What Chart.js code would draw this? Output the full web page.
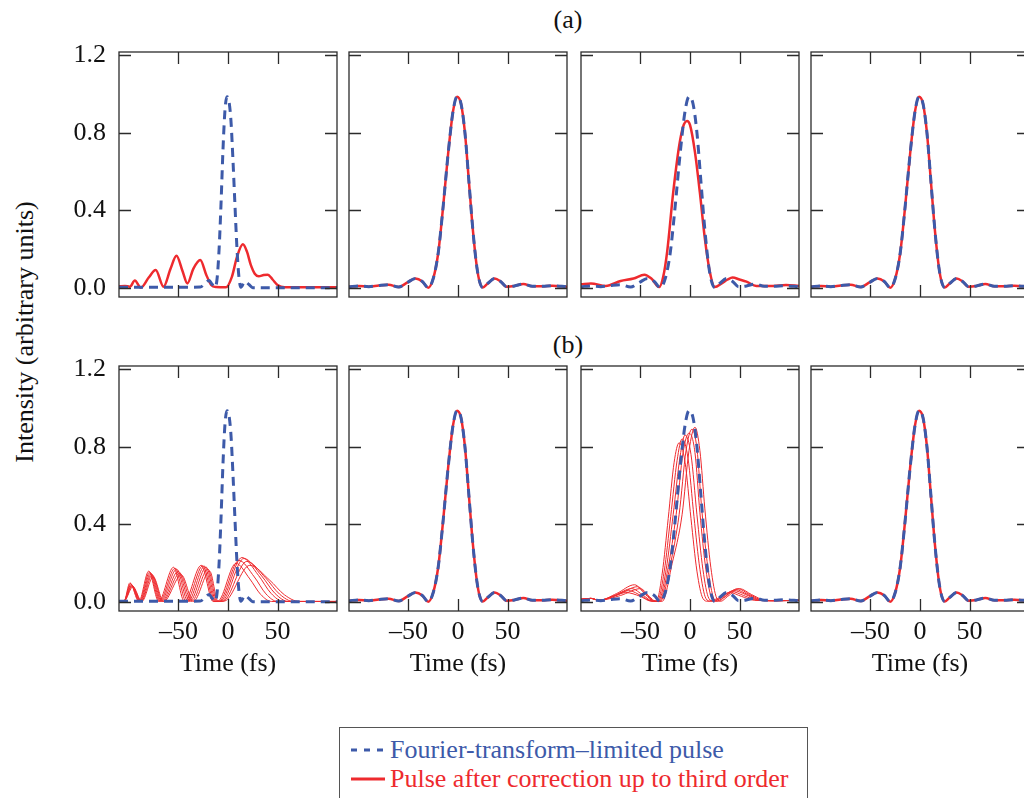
<!DOCTYPE html>
<html lang="en">
<head>
    <meta charset="UTF-8">
    <title>Pulse intensity</title>
    <script src="https://cdn.jsdelivr.net/npm/chart.js"></script>
    <style>
        html, body {
            margin: 0;
            width: 1024px;
            height: 798px;
            overflow: hidden;
            background: #fff;
            font-family: "Liberation Serif", "Times New Roman", serif;
        }
        canvas { position: absolute; }
        .txt {
            position: absolute;
            font-size: 26px;
            line-height: 30px;
            color: #111;
            white-space: nowrap;
            transform: translate(-50%, -50%);
        }
        #ylab { transform: translate(-50%, -50%) rotate(-90deg); }
        #legend {
            position: absolute;
            left: 339px;
            top: 727px;
            width: 467px;
            height: 90px;
            border: 1px solid #555;
        }
        #legend div {
            position: absolute;
            left: 50px;
            font-size: 26px;
            line-height: 30px;
            white-space: nowrap;
        }
        #legend svg { position: absolute; left: 10px; }
    </style>
</head>
<body>
    <div class="txt" style="left:568px; top:20px">(a)</div>
    <div class="txt" style="left:568px; top:345px">(b)</div>
    <div class="txt" id="ylab" style="left:25px; top:332px">Intensity (arbitrary units)</div>

    <div id="legend">
        <svg width="36" height="10" style="top:17px"><line x1="1" y1="5" x2="35" y2="5" stroke="#3d5aa9" stroke-width="3" stroke-dasharray="6 7"/></svg>
        <div style="top:7px; color:#3d5aa9">Fourier-transform–limited pulse</div>
        <svg width="36" height="10" style="top:46px"><line x1="1" y1="5" x2="35" y2="5" stroke="#ee2a2e" stroke-width="3"/></svg>
        <div style="top:36px; color:#ee2a2e">Pulse after correction up to third order</div>
    </div>

    <script>
        // ticks
        const timeTicks = [-50, 0, 50];
        const intensityTicks = [0, 0.4, 0.8, 1.2];

        // [time fs, intensity]
        const ftlNarrow = [[-110,0.005],[-40,0.005],[-28,0.006],[-23,0.025],[-19,0.04],[-16,0.02],[-13,0.005],[-11,0.05],[-9,0.2],[-7,0.44],[-5,0.72],[-3,0.92],[-1,0.985],[1,0.96],[3,0.86],[5,0.66],[7,0.43],[9,0.21],[11,0.06],[13,0.005],[17,0.035],[21,0.02],[25,0.003],[40,0.003],[110,0.003]];

        const ftlWide = [[-110,0.008],[-100,0.012],[-90,0.008],[-80,0.014],[-70,0.018],[-60,0.006],[-51,0.03],[-43,0.05],[-36,0.035],[-30,0.003],[-25,0.05],[-20,0.18],[-15,0.42],[-10,0.69],[-5,0.91],[-1,0.985],[3,0.95],[7,0.8],[11,0.55],[15,0.3],[19,0.11],[22,0.03],[25,0.004],[30,0.025],[37,0.05],[43,0.035],[49,0.008],[57,0.012],[66,0.022],[75,0.01],[85,0.01],[95,0.013],[110,0.008]];

        const a1Red = [[-110,0.01],[-104,0.012],[-99,0.008],[-94,0.04],[-88,0.003],[-80,0.055],[-73,0.094],[-65,0.008],[-58,0.1],[-52,0.167],[-46,0.09],[-41,0.025],[-35,0.1],[-28,0.145],[-22,0.07],[-17,0.017],[-12,0.006],[-2,0.005],[4,0.06],[9,0.16],[15,0.226],[19,0.19],[23,0.12],[27,0.075],[31,0.062],[36,0.068],[40,0.07],[45,0.045],[50,0.017],[57,0.005],[110,0.005]];

        const a3Red = [[-110,0.02],[-100,0.025],[-85,0.012],[-70,0.037],[-57,0.05],[-46,0.07],[-39,0.05],[-31,0.006],[-27,0.06],[-23,0.19],[-17,0.49],[-11,0.73],[-7,0.83],[-3,0.86],[0,0.84],[5,0.7],[10,0.49],[15,0.255],[20,0.085],[25,0.006],[32,0.025],[38,0.045],[43,0.055],[50,0.045],[57,0.034],[67,0.012],[84,0.012],[97,0.017],[110,0.012]];

        // (b) first column: family of corrected pulses
        const b1Fan0 = [[-110,0.005],[-105,0.005],[-99,0.10],[-90,0.004],[-80,0.16],[-70,0.004],[-55,0.18],[-44,0.004],[-27,0.19],[-15,0.004],[-10,0.006],[8,0.20],[22,0.12],[33,0.04],[44,0.004],[110,0.004]];
        const b1Fan1 = [[-110,0.005],[-105,0.005],[-98.4,0.096],[-89.4,0.004],[-79.1,0.155],[-69,0.004],[-53.4,0.175],[-42.2,0.004],[-25.3,0.188],[-14,0.004],[-8.7,0.006],[11,0.215],[26.6,0.13],[38.3,0.043],[50,0.004],[110,0.004]];
        const b1Fan2 = [[-110,0.005],[-105,0.005],[-97.8,0.092],[-88.8,0.004],[-78.2,0.15],[-68,0.004],[-51.8,0.17],[-40.4,0.004],[-23.6,0.185],[-13,0.004],[-7.4,0.006],[14,0.23],[30.8,0.138],[43.4,0.046],[56,0.004],[110,0.004]];
        const b1Fan3 = [[-110,0.005],[-105,0.005],[-97.2,0.088],[-88.2,0.004],[-77.3,0.145],[-67,0.004],[-50.2,0.16],[-38.6,0.004],[-21.9,0.18],[-12,0.004],[-6,0.006],[16,0.225],[34,0.135],[47.5,0.045],[61,0.004],[110,0.004]];
        const b1Fan4 = [[-110,0.005],[-105,0.005],[-96.6,0.084],[-87.6,0.004],[-76.4,0.14],[-66,0.004],[-48.6,0.15],[-36.8,0.004],[-20.2,0.17],[-11,0.004],[-4.7,0.006],[19,0.21],[37.8,0.126],[52,0.042],[66,0.004],[110,0.004]];
        const b1Fan5 = [[-110,0.005],[-105,0.005],[-96,0.08],[-87,0.004],[-75.5,0.13],[-65,0.004],[-47,0.14],[-35,0.004],[-18.5,0.16],[-10,0.004],[-3.4,0.006],[22,0.19],[42,0.114],[57,0.038],[72,0.004],[110,0.004]];

        // (b) third column: family of corrected pulses
        const b3Fan0 = [[-110,0.015],[-100,0.02],[-92,0.01],[-80,0.025],[-65,0.05],[-50,0.03],[-40,0.006],[-34,0.005],[-28,0.15],[-22,0.43],[-16,0.72],[-11,0.82],[-5,0.72],[1,0.43],[7,0.16],[13,0.02],[18,0.005],[28,0.02],[40,0.05],[52,0.03],[65,0.01],[80,0.008],[110,0.01]];
        const b3Fan1 = [[-110,0.015],[-100,0.02],[-92,0.01],[-78,0.03],[-62,0.06],[-48,0.03],[-39,0.006],[-33,0.005],[-26,0.16],[-19.5,0.44],[-13,0.73],[-8,0.84],[-2,0.74],[4,0.44],[10,0.17],[16,0.02],[21,0.005],[30,0.02],[42,0.055],[54,0.035],[68,0.01],[82,0.008],[110,0.01]];
        const b3Fan2 = [[-110,0.015],[-100,0.02],[-92,0.01],[-76,0.035],[-59,0.07],[-47,0.035],[-38,0.006],[-32,0.005],[-24,0.17],[-17,0.45],[-10,0.75],[-5,0.86],[1,0.76],[7,0.45],[13,0.17],[19,0.02],[24,0.005],[32,0.025],[44,0.06],[56,0.04],[70,0.01],[84,0.008],[110,0.01]];
        const b3Fan3 = [[-110,0.015],[-100,0.02],[-92,0.01],[-74,0.045],[-56,0.09],[-45,0.04],[-37,0.006],[-31,0.005],[-22,0.18],[-14,0.45],[-7,0.77],[-1,0.87],[5,0.77],[10,0.46],[16,0.17],[22,0.02],[26,0.005],[34,0.025],[46,0.065],[58,0.04],[72,0.01],[86,0.008],[110,0.01]];
        const b3Fan4 = [[-110,0.015],[-100,0.02],[-92,0.01],[-72,0.04],[-53,0.08],[-43,0.035],[-36,0.006],[-30,0.005],[-20,0.19],[-11,0.45],[-4,0.78],[2,0.89],[7,0.79],[12,0.47],[18,0.18],[24,0.02],[28,0.005],[36,0.03],[48,0.07],[60,0.04],[74,0.01],[88,0.008],[110,0.01]];
        const b3Fan5 = [[-110,0.015],[-100,0.02],[-92,0.01],[-70,0.035],[-50,0.07],[-41,0.03],[-35,0.006],[-28,0.005],[-18,0.2],[-8,0.45],[-1,0.78],[5,0.9],[10,0.78],[15,0.48],[21,0.18],[27,0.02],[31,0.005],[38,0.03],[50,0.07],[62,0.04],[76,0.01],[90,0.008],[110,0.01]];

        const b1Fan = [b1Fan0, b1Fan1, b1Fan2, b1Fan3, b1Fan4, b1Fan5];
        const b3Fan = [b3Fan0, b3Fan1, b3Fan2, b3Fan3, b3Fan4, b3Fan5];

        const BLUE = '#3d5aa9';
        const RED = '#ee2a2e';

        const panels = [
            { row: 0, col: 0, blue: ftlNarrow, red: [a1Red] },
            { row: 0, col: 1, blue: ftlWide, red: [ftlWide] },
            { row: 0, col: 2, blue: ftlWide, red: [a3Red] },
            { row: 0, col: 3, blue: ftlWide, red: [ftlWide] },
            { row: 1, col: 0, blue: ftlNarrow, red: b1Fan, thin: true },
            { row: 1, col: 1, blue: ftlWide, red: [ftlWide] },
            { row: 1, col: 2, blue: ftlWide, red: b3Fan, thin: true },
            { row: 1, col: 3, blue: ftlWide, red: [ftlWide] }
        ];

        // plot box geometry
        const colLeft = [119, 349, 580.5, 810.5];
        const rowTop = [52, 366];
        const boxW = 218, boxH = 245;
        const padTop = 32, padRight = 10;

        Chart.defaults.font.family = '"Liberation Serif", "Times New Roman", serif';
        Chart.defaults.font.size = 26;
        Chart.defaults.color = '#111';

        // frame with inward ticks on all four sides
        const frameTicks = {
            id: 'frameTicks',
            afterDatasetsDraw(chart) {
                const { ctx, chartArea: a, scales: { x, y } } = chart;
                ctx.save();
                ctx.strokeStyle = '#2b2b2b';
                ctx.lineWidth = 1.3;
                ctx.beginPath();
                timeTicks.forEach(t => {
                    const px = Math.round(x.getPixelForValue(t)) + 0.5;
                    ctx.moveTo(px, a.top); ctx.lineTo(px, a.top + 12);
                    ctx.moveTo(px, a.bottom); ctx.lineTo(px, a.bottom - 12);
                });
                intensityTicks.forEach(v => {
                    const py = Math.round(y.getPixelForValue(v)) + 0.5;
                    ctx.moveTo(a.left, py); ctx.lineTo(a.left + 12, py);
                    ctx.moveTo(a.right, py); ctx.lineTo(a.right - 12, py);
                });
                ctx.stroke();
                ctx.strokeRect(a.left, a.top, a.right - a.left, a.bottom - a.top);
                ctx.restore();
            }
        };

        const toXY = arr => arr.map(p => ({ x: p[0], y: p[1] }));

        panels.forEach(p => {
            const leftSpace = p.col === 0 ? 70 : 10;
            const bottomSpace = p.row === 1 ? 75 : 32;
            const canvas = document.createElement('canvas');
            canvas.width = leftSpace + boxW + padRight;
            canvas.height = padTop + boxH + bottomSpace;
            canvas.style.left = (colLeft[p.col] - leftSpace) + 'px';
            canvas.style.top = (rowTop[p.row] - padTop) + 'px';
            document.body.appendChild(canvas);

            const datasets = [{
                data: toXY(p.blue),
                borderColor: BLUE,
                borderWidth: 3,
                borderDash: [9, 6],
                pointRadius: 0,
                cubicInterpolationMode: 'monotone'
            }];
            p.red.forEach(curve => datasets.push({
                data: toXY(curve),
                borderColor: RED,
                borderWidth: p.thin ? 1 : 2.5,
                pointRadius: 0,
                cubicInterpolationMode: 'monotone'
            }));

            new Chart(canvas.getContext('2d'), {
                type: 'line',
                data: { datasets },
                plugins: [frameTicks],
                options: {
                    responsive: false,
                    animation: false,
                    layout: { padding: { top: padTop, right: padRight, bottom: p.row === 1 ? 0 : bottomSpace, left: 0 } },
                    plugins: { legend: { display: false }, tooltip: { enabled: false } },
                    scales: {
                        x: {
                            type: 'linear',
                            min: -110, max: 110,
                            grid: { display: false, drawTicks: false },
                            border: { display: false },
                            afterBuildTicks: s => { s.ticks = timeTicks.map(v => ({ value: v })); },
                            afterFit: s => { s.height = p.row === 1 ? bottomSpace : 0; },
                            ticks: {
                                display: p.row === 1,
                                autoSkip: false,
                                maxRotation: 0,
                                padding: 6,
                                callback: v => v < 0 ? '\u2013' + Math.abs(v) : String(v)
                            },
                            title: {
                                display: p.row === 1,
                                text: 'Time (fs)',
                                padding: { top: 0, bottom: 6 }
                            }
                        },
                        y: {
                            min: -0.045, max: 1.215,
                            grid: { display: false, drawTicks: false },
                            border: { display: false },
                            afterBuildTicks: s => { s.ticks = intensityTicks.map(v => ({ value: v })); },
                            afterFit: s => { s.width = leftSpace; },
                            ticks: {
                                display: p.col === 0,
                                padding: 13,
                                callback: v => v.toFixed(1)
                            }
                        }
                    }
                }
            });
        });
    </script>
</body>
</html>
